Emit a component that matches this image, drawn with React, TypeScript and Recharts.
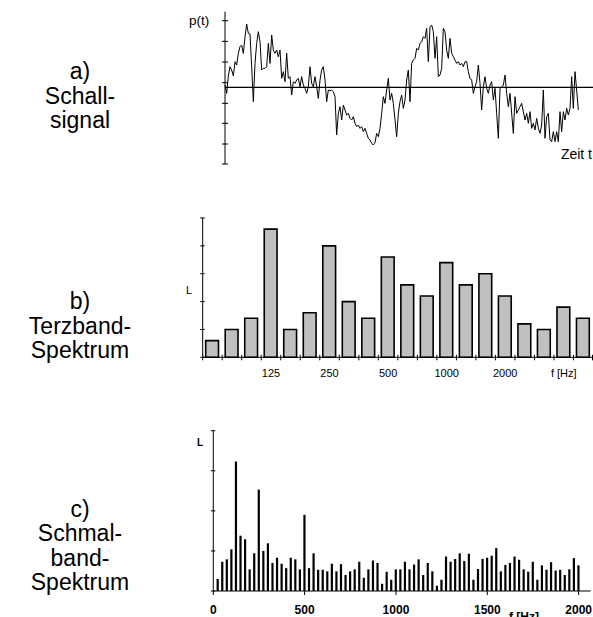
import React from "react";
import { LineChart, Line, XAxis, YAxis, ReferenceLine, BarChart, Bar } from "recharts";

// ---------- a) Schallsignal ----------
const signalP = [
  7, -18, 34, 62, 52, 34, 77, 67, 102, 122, 127, 102, 152, 190, 162, 160, 62, -43, 72, 132,
  167, 137, 52, 57, 57, 62, 132, 72, 157, 112, 102, 112, 92, 112, 27, 47, 17, 102, 27, 32,
  -23, 17, 12, 22, 27, 2, 32, 7, -3, -18, 2, 62, 12, 2, 32, 2, -33, 22, 52, 62,
  22, -43, -8, -10, -8, -13, -28, -143, -78, -58, -98, -53, -68, -83, -78, -93, -98, -88, -108, -118,
  -113, -123, -118, -133, -123, -138, -153, -158, -168, -173, -166, -138, -148, -123, -78, -28, -48, -8, 27, -38,
  -18, -48, -98, -148, -78, -43, -23, -63, -38, 22, 52, -43, 72, 82, 87, 117, 112, 132, 137, 152,
  147, 177, 77, 182, 187, 167, 87, 152, 32, 37, 57, 177, 167, 112, 87, 147, 102, 92, 82, 72,
  77, 67, 72, 62, 77, 77, 47, 27, 22, -18, 2, 17, 67, 12, -68, 2, 32, -3, -18, 7,
  17, -38, -3, -78, -153, -3, 0, 7, 37, -18, -58, -18, -78, -138, -28, -78, -68, -58, -48, -73,
  -98, -78, -108, -73, -123, -108, -128, -93, -123, -138, -113, -8, -153, -88, -78, -158, -163, -133, -163, -133,
  -163, -73, -133, -73, -98, -63, -83, -63, 32, -63, 47, -8, -68,
];
const signalYTicks = [-230, -170, -108, -48, 14, 76, 138, 200];
const signalYDomain = [-230, 227];
const signalTMax = 220.8;

// ---------- b) Terzband-Spektrum ----------
const terzBands = ["63", "80", "100", "125", "160", "200", "250", "315", "400", "500", "630", "800", "1000", "1250", "1600", "2000", "2500", "3150", "4000", "5000"];
const terzLevels = [0.6, 1.0, 1.4, 4.6, 1.0, 1.6, 4.0, 2.0, 1.4, 3.6, 2.6, 2.2, 3.4, 2.6, 3.0, 2.2, 1.2, 1.0, 1.8, 1.4];
const terzTickLabels = ["", "", "", "125", "", "", "250", "", "", "500", "", "", "1000", "", "", "2000", "", "", "f [Hz]", ""];
const terzYTicks = [0, 1, 2, 3, 4, 5];

// ---------- c) Schmalband-Spektrum ----------
const narrowFreqs = [
  25, 50, 75, 100, 125, 150, 175, 200, 225, 250, 275, 300, 325, 350, 375, 400, 425, 450, 475, 500,
  525, 550, 575, 600, 625, 650, 675, 700, 725, 750, 775, 800, 825, 850, 875, 900, 925, 950, 975, 1000,
  1025, 1050, 1075, 1100, 1125, 1150, 1175, 1200, 1225, 1250, 1275, 1300, 1325, 1350, 1375, 1400, 1425, 1450, 1475, 1500,
  1525, 1550, 1575, 1600, 1625, 1650, 1675, 1700, 1725, 1750, 1775, 1800, 1825, 1850, 1875, 1900, 1925, 1950, 1975, 2000,
];
const narrowLevels = [
  0.3, 0.73, 0.79, 1.04, 3.23, 1.38, 1.29, 0.54, 0.94, 2.53, 1.0, 1.19, 0.7, 0.83, 0.68, 0.57, 0.83, 0.79, 0.54, 1.9,
  0.57, 0.94, 0.53, 0.53, 0.49, 0.68, 0.49, 0.67, 0.4, 0.49, 0.54, 0.73, 0.33, 0.54, 0.76, 0.7, 0.18, 0.48, 0.28, 0.54,
  0.54, 0.73, 0.54, 0.66, 0.79, 0.4, 0.7, 0.49, 0.13, 0.28, 0.86, 0.73, 0.8, 0.94, 0.75, 0.93, 0.28, 0.55, 0.8, 0.83,
  0.88, 1.07, 0.49, 0.65, 0.7, 0.86, 0.78, 0.54, 0.48, 0.73, 0.28, 0.64, 0.53, 0.72, 0.51, 0.53, 0.4, 0.54, 0.82, 0.64,
];
const narrowXTicks = [0, 500, 1000, 1500, 2000];
const narrowXDomain = [0, 2066];
const narrowYTicks = [0, 1, 2, 3, 4];

const FONT = "'Liberation Sans', Arial, Helvetica, sans-serif";
const YW = 10; // y-axis box width

const signalData = signalP.map((p, i) => ({ t: i, p }));
const terzData = terzBands.map((band, i) => ({ band, level: terzLevels[i] }));
const narrowData = narrowFreqs.map((f, i) => ({ f, L: narrowLevels[i] }));

const yCrossTick = (l: number, r: number) => (props: any) => {
  const { x, y } = props;
  return <line x1={x - l} x2={x + r} y1={y} y2={y} stroke="#000" strokeWidth={1} />;
};

const TERZ_LEFT = 202.7;
const TERZ_PLOT_W = 593 - TERZ_LEFT;
const TERZ_BAND = TERZ_PLOT_W / terzBands.length;

const TerzXTick = (props: any) => {
  const { x, y, payload } = props;
  const idx = terzBands.indexOf(payload.value);
  const label = terzTickLabels[idx];
  const left = x - TERZ_BAND / 2;
  return (
    <g>
      <line x1={left} x2={left} y1={y - 2.5} y2={y + 3} stroke="#000" strokeWidth={1} />
      {idx === terzBands.length - 1 ? (
        <line x1={x + TERZ_BAND / 2 - 0.5} x2={x + TERZ_BAND / 2 - 0.5} y1={y - 2.5} y2={y + 3} stroke="#000" strokeWidth={1} />
      ) : null}
      {label ? (
        <text x={x} y={y + 19.4} textAnchor="middle" fontSize={11} fontFamily={FONT} fill="#000">
          {label}
        </text>
      ) : null}
    </g>
  );
};

const NarrowXTick = (props: any) => {
  const { x, y, payload } = props;
  return (
    <g>
      <line x1={x} x2={x} y1={y} y2={y + 4} stroke="#000" strokeWidth={1} />
      <text x={x} y={y + 23} textAnchor="middle" fontSize={12} fontWeight="bold" fontFamily={FONT} fill="#000">
        {payload.value}
      </text>
    </g>
  );
};

const leftLabels = [
  { text: "a)", y: 79 },
  { text: "Schall-", y: 103.5 },
  { text: "signal", y: 128 },
  { text: "b)", y: 309 },
  { text: "Terzband-", y: 333.5 },
  { text: "Spektrum", y: 358 },
  { text: "c)", y: 516.5 },
  { text: "Schmal-", y: 541 },
  { text: "band-", y: 565.5 },
  { text: "Spektrum", y: 590 },
];

export default function App() {
  return (
    <div
      style={{
        position: "absolute",
        left: 0,
        top: 0,
        width: 593,
        height: 617,
        overflow: "hidden",
        background: "#fff",
        fontFamily: FONT,
      }}
    >
      {/* a) */}
      <div style={{ position: "absolute", left: 0, top: 0 }}>
        <LineChart width={593} height={200} data={signalData} margin={{ top: 11.7, right: 0, bottom: 36, left: 225 - YW }}>
          <XAxis dataKey="t" type="number" domain={[0, signalTMax]} hide />
          <YAxis
            type="number"
            domain={signalYDomain}
            ticks={signalYTicks}
            interval={0}
            width={YW}
            tickSize={0}
            tickMargin={0}
            tickLine={false}
            axisLine={{ stroke: "#000", strokeWidth: 1 }}
            tick={yCrossTick(3, 3)}
          />
          <ReferenceLine y={0} stroke="#000" strokeWidth={1.2} />
          <Line type="linear" dataKey="p" stroke="#000" strokeWidth={1} dot={false} isAnimationActive={false} />
        </LineChart>
      </div>

      {/* b) */}
      <div style={{ position: "absolute", left: 0, top: 200 }}>
        <BarChart width={593} height={190} data={terzData} margin={{ top: 18, right: 0, bottom: 0, left: TERZ_LEFT - YW }}>
          <XAxis
            dataKey="band"
            height={32.7}
            interval={0}
            tickSize={0}
            tickMargin={0}
            tickLine={false}
            axisLine={{ stroke: "#000", strokeWidth: 1 }}
            tick={TerzXTick}
          />
          <YAxis
            type="number"
            domain={[0, 5]}
            ticks={terzYTicks}
            interval={0}
            width={YW}
            tickSize={0}
            tickMargin={0}
            tickLine={false}
            axisLine={{ stroke: "#000", strokeWidth: 1 }}
            tick={yCrossTick(2.5, 2)}
          />
          <Bar dataKey="level" fill="#c0c0c0" stroke="#000" strokeWidth={1.6} barSize={12.8} isAnimationActive={false} />
        </BarChart>
      </div>

      {/* c) */}
      <div style={{ position: "absolute", left: 0, top: 400 }}>
        <BarChart width={593} height={217} data={narrowData} margin={{ top: 30.7, right: 2.3, bottom: 0, left: 213.3 - YW }}>
          <XAxis
            dataKey="f"
            type="number"
            domain={narrowXDomain}
            ticks={narrowXTicks}
            interval={0}
            height={26}
            tickSize={0}
            tickMargin={0}
            tickLine={false}
            axisLine={{ stroke: "#000", strokeWidth: 1 }}
            tick={NarrowXTick}
          />
          <YAxis
            type="number"
            domain={[0, 4]}
            ticks={narrowYTicks}
            interval={0}
            width={YW}
            tickSize={0}
            tickMargin={0}
            tickLine={false}
            axisLine={{ stroke: "#000", strokeWidth: 1 }}
            tick={yCrossTick(2.5, 2)}
          />
          <Bar dataKey="L" fill="#000" barSize={2.2} isAnimationActive={false} />
        </BarChart>
      </div>

      {/* text overlay */}
      <svg width={593} height={617} style={{ position: "absolute", left: 0, top: 0, pointerEvents: "none" }}>
        {leftLabels.map((l, i) => (
          <text key={i} x={80} y={l.y} textAnchor="middle" fontSize={23} fontFamily={FONT} fill="#000">
            {l.text}
          </text>
        ))}
        <text x={189} y={25} fontSize={13.5} fontFamily={FONT} fill="#000">p(t)</text>
        <text x={592} y={158.5} textAnchor="end" fontSize={14} fontFamily={FONT} fill="#000">Zeit t</text>
        <text x={186} y={294} fontSize={11} fontFamily={FONT} fill="#000">L</text>
        <text x={197} y={445.5} fontSize={10} fontWeight="bold" fontFamily={FONT} fill="#000">L</text>
        <text x={509} y={621} fontSize={12} fontWeight="bold" fontFamily={FONT} fill="#000">f [Hz]</text>
      </svg>
    </div>
  );
}
